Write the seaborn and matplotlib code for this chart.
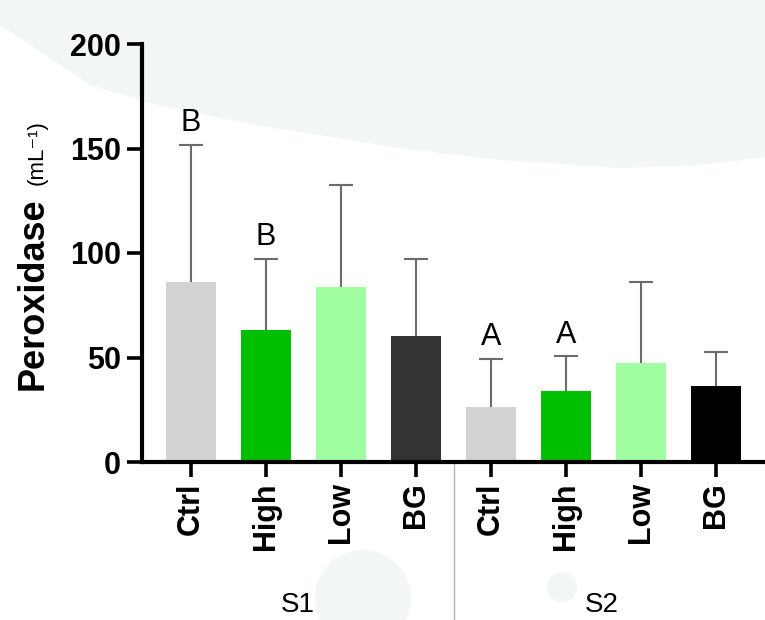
import matplotlib
matplotlib.use("Agg")
import matplotlib.pyplot as plt
from matplotlib.patches import Polygon, Ellipse
import seaborn as sns
import pandas as pd
import numpy as np

# ---- data ----
groups = ["S1", "S1", "S1", "S1", "S2", "S2", "S2", "S2"]
treatments = ["Ctrl", "High", "Low", "BG", "Ctrl", "High", "Low", "BG"]
means = [86, 63, 83.5, 60.5, 26.5, 34, 47.5, 36.5]
sd = [65.5, 34, 49, 36.5, 23, 16.5, 38.5, 16]
letters = ["B", "B", "", "", "A", "A", "", ""]
colors = ["#d3d3d3", "#00bf00", "#a0ffa0", "#333333",
          "#d3d3d3", "#00bf00", "#a0ffa0", "#000000"]
yticks = [0, 50, 100, 150, 200]
group_names = ["S1", "S2"]

keys = [f"{g} {t}" for g, t in zip(groups, treatments)]
df = pd.DataFrame({"key": keys, "mean": means})

sns.set_style("white")
plt.rcParams["font.family"] = ["Liberation Sans", "DejaVu Sans"]
plt.rcParams["text.color"] = "black"
plt.rcParams["xtick.color"] = "black"
plt.rcParams["ytick.color"] = "black"
plt.rcParams["axes.labelcolor"] = "black"

fig = plt.figure(figsize=(7.65, 6.2), dpi=100)
fig.patch.set_facecolor("white")

# faint background decoration
bg = "#f2f6f6"
W, H = 765.0, 620.0
pts = [(0, 25), (45, 55), (90, 85), (150, 103), (250, 124), (400, 148),
       (500, 160), (620, 168), (700, 165), (765, 157), (765, 0), (0, 0)]
poly = Polygon([(x / W, 1 - y / H) for x, y in pts], closed=True,
               transform=fig.transFigure, facecolor=bg, edgecolor="none", zorder=-5)
fig.patches.append(poly)
for cx, cy, r in [(363, 598, 48), (562, 587, 15)]:
    c = Ellipse((cx / W, 1 - cy / H), 2 * r / W, 2 * r / H,
                transform=fig.transFigure, facecolor=bg, edgecolor="none", zorder=-5)
    fig.patches.append(c)

ax = fig.add_axes([142 / W, 1 - 462 / H, 1 - 142 / W, (462 - 44) / H])
ax.set_facecolor("none")

sns.barplot(data=df, x="key", y="mean", hue="key", order=keys, hue_order=keys,
            palette=dict(zip(keys, colors)), legend=False, width=0.667,
            saturation=1, linewidth=0, ax=ax, errorbar=None)

pos = np.arange(len(means))
eb = ax.errorbar(pos, means, yerr=[np.zeros(len(sd)), sd], fmt="none",
                 ecolor="#6b6b6b", elinewidth=1.5, capsize=8.5, capthick=1.5, zorder=1)
# hide the caps sitting on the bar tops (zero lower error)
for cap in eb[1]:
    if np.allclose(cap.get_ydata(), means):
        cap.set_visible(False)

for x, m, s, lab in zip(pos, means, sd, letters):
    if lab:
        ax.annotate(lab, (x, m + s), xytext=(0, 5), textcoords="offset points",
                    ha="center", va="bottom", fontsize=22, color="black")

ax.set_xlim(-0.653, 7.653)
ax.set_ylim(0, 200)
ax.set_yticks(yticks)
ax.set_yticklabels([str(v) for v in yticks], fontsize=22, fontweight="bold", color="black")
ax.set_xticks(pos)
ax.set_xticklabels(treatments, rotation=90, fontsize=22, fontweight="bold", color="black")
ax.set_xlabel("")
ax.set_ylabel("")

for side in ["top", "right"]:
    ax.spines[side].set_visible(False)
for side in ["left", "bottom"]:
    ax.spines[side].set_linewidth(3)
    ax.spines[side].set_color("black")
ax.tick_params(axis="both", which="major", length=11, width=2.6, color="black",
               direction="out", left=True, bottom=True)
ax.tick_params(axis="x", pad=3.5)
ax.tick_params(axis="y", pad=4)

# group separator
ax.plot([3.5, 3.5], [0, -0.4], transform=ax.get_xaxis_transform(),
        clip_on=False, color="#b5b5b5", lw=1)

# group labels
for gx, gname in zip([1.42, 5.48], group_names):
    ax.text(gx, -(605 - 462) / (462 - 44), gname, transform=ax.get_xaxis_transform(),
            ha="center", va="center", fontsize=20, color="black")

# y label
fig.text(43 / W, 1 - 293.5 / H, "Peroxidase", rotation=90, rotation_mode="anchor",
         ha="center", va="baseline", fontsize=26, fontweight="bold", color="black")
fig.text(43 / W, 1 - 152.5 / H, "(mL\u207b\u00b9)", rotation=90, rotation_mode="anchor",
         ha="center", va="baseline", fontsize=16, color="black")

fig.savefig("out.png", dpi=100, facecolor="white")
